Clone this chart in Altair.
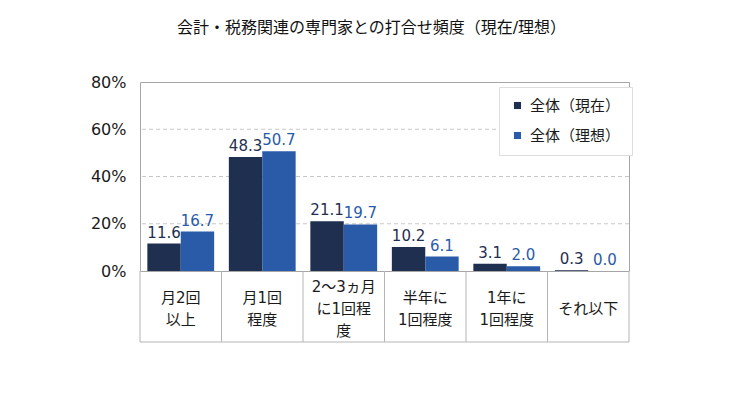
import altair as alt
import pandas as pd

categories = ["月2回\n以上", "月1回\n程度", "2～3ヵ月\nに1回程\n度", "半年に\n1回程度", "1年に\n1回程度", "それ以下"]
series = ["全体（現在）", "全体（理想）"]
current = [11.6, 48.3, 21.1, 10.2, 3.1, 0.3]
ideal = [16.7, 50.7, 19.7, 6.1, 2.0, 0.0]
y_ticks = [0, 20, 40, 60, 80]
grid_vals = [20, 40, 60]
colors = ["#1f2f50", "#2a5ba8"]
title_text = "会計・税務関連の専門家との打合せ頻度（現在/理想）"

FONT = "'DejaVu Sans', 'Noto Sans CJK JP'"
W, H = 489, 189
TABLE_H = 71
LINE_H = 22

rows = []
for c, a, b in zip(categories, current, ideal):
    rows.append({"cat": c, "series": series[0], "value": a})
    rows.append({"cat": c, "series": series[1], "value": b})
df = pd.DataFrame(rows)
cat_df = pd.DataFrame({"cat": categories})
grid_df = pd.DataFrame({"v": grid_vals})

x_enc = alt.X("cat:N", sort=categories, axis=None, scale=alt.Scale(paddingInner=0, paddingOuter=0))
y_scale = alt.Scale(domain=[0, 80], nice=False)

color_enc = alt.Color(
    "series:N",
    sort=series,
    scale=alt.Scale(domain=series, range=colors),
    legend=alt.Legend(
        title=None, orient="none", legendX=359, legendY=5,
        symbolType="square", symbolSize=50, labelFontSize=15, labelFont=FONT,
        labelColor="#1a1a1a", padding=11, rowPadding=14, labelOffset=5,
        strokeColor="#dddddd", fillColor="white",
    ),
)

bars = alt.Chart(df).mark_bar().encode(
    x=x_enc,
    xOffset=alt.XOffset("series:N", sort=series, scale=alt.Scale(paddingOuter=0.22, paddingInner=0)),
    y=alt.Y("value:Q", scale=y_scale, title=None,
            axis=alt.Axis(values=y_ticks, labelExpr="datum.value + '%'", grid=False, domain=False,
                          ticks=False, labelPadding=14, labelFontSize=16, labelFont=FONT,
                          labelColor="#1a1a1a")),
    color=color_enc,
)

labels = alt.Chart(df).mark_text(dy=-11, fontSize=15, font=FONT).encode(
    x=x_enc,
    xOffset=alt.XOffset("series:N", sort=series),
    y=alt.Y("value:Q", scale=y_scale),
    text=alt.Text("value:Q", format=".1f"),
    color=alt.Color("series:N", sort=series, scale=alt.Scale(domain=series, range=colors), legend=None),
)

grid = alt.Chart(grid_df).mark_rule(color="#c8c8c8", strokeDash=[4, 3], strokeWidth=1).encode(
    y=alt.Y("v:Q", scale=y_scale),
)

vlines = alt.Chart(cat_df).mark_rule(color="#b5b5b5").encode(
    x=alt.X("cat:N", sort=categories, axis=None, bandPosition=0),
    y=alt.value(H), y2=alt.value(H + TABLE_H),
)

right_line = alt.Chart(alt.Data(values=[{}])).mark_rule(color="#b5b5b5").encode(
    x=alt.value(W), y=alt.value(H), y2=alt.value(H + TABLE_H),
)
bottom_line = alt.Chart(alt.Data(values=[{}])).mark_rule(color="#b5b5b5").encode(
    x=alt.value(0), x2=alt.value(W), y=alt.value(H + TABLE_H),
)

cat_layers = []
for k in (1, 2, 3):
    cat_layers.append(
        alt.Chart(cat_df)
        .transform_filter(f"length(split(datum.cat, '\\n')) == {k}")
        .mark_text(fontSize=15, font=FONT, lineBreak="\n", lineHeight=LINE_H,
                   baseline="middle", color="#1a1a1a")
        .encode(
            x=alt.X("cat:N", sort=categories, axis=None),
            y=alt.value(H + 38 - (k - 1) * LINE_H / 2),
            text="cat:N",
        )
    )

chart = alt.layer(grid, bars, labels, vlines, right_line, bottom_line, *cat_layers).properties(
    width=W, height=H,
    title=alt.TitleParams(title_text, fontSize=16, font=FONT, fontWeight="normal", color="#111111",
                          anchor="middle", dx=-13, offset=38),
    padding={"left": 82, "top": 12, "right": 5, "bottom": 5},
).configure_view(stroke="#a6a6a6", strokeWidth=1)

chart.save("out.html", embed_options={"renderer": "svg", "actions": False})
